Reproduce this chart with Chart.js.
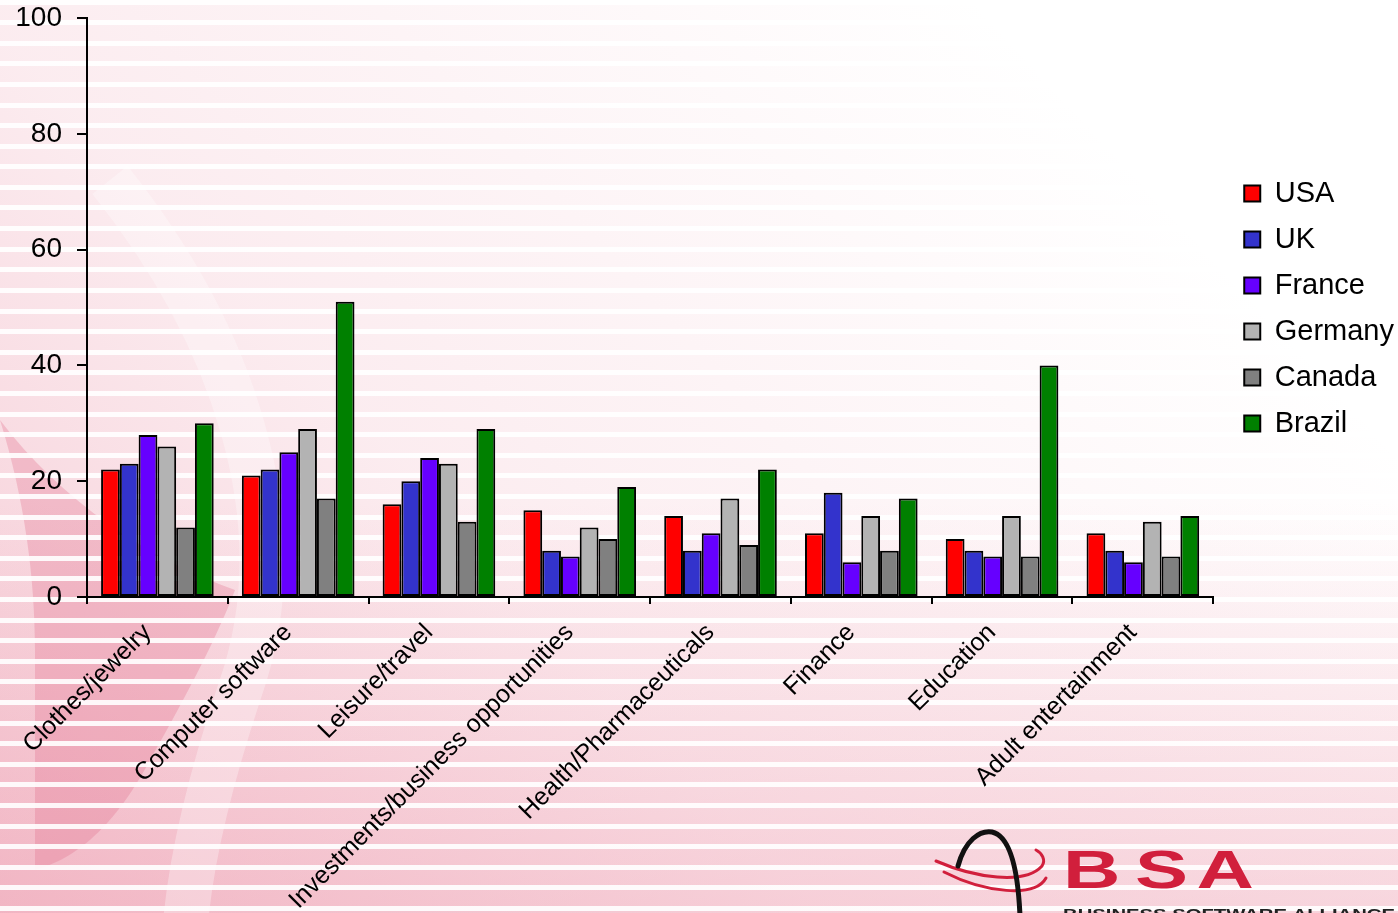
<!DOCTYPE html>
<html>
<head>
<meta charset="utf-8">
<title>Spam by product category</title>
<script src="https://cdn.jsdelivr.net/npm/chart.js@4.4.1/dist/chart.umd.min.js"></script>
<style>
  html, body { margin: 0; padding: 0; background: #fff; overflow: hidden; }
  #chart { display: block; }
</style>
</head>
<body>
<canvas id="chart" width="1398" height="913"></canvas>
<script>
const categories = [
  'Clothes/jewelry',
  'Computer software',
  'Leisure/travel',
  'Investments/business opportunities',
  'Health/Pharmaceuticals',
  'Finance',
  'Education',
  'Adult entertainment'
];

const usa     = [22, 21, 16, 15, 14, 11, 10, 11];
const uk      = [23, 22, 20,  8,  8, 18,  8,  8];
const france  = [28, 25, 24,  7, 11,  6,  7,  6];
const germany = [26, 29, 23, 12, 17, 14, 14, 13];
const canada  = [12, 17, 13, 10,  9,  8,  7,  7];
const brazil  = [30, 51, 29, 19, 22, 17, 40, 14];

const yTicks = [0, 20, 40, 60, 80, 100];

const FONT = "'Liberation Sans', Arial, sans-serif";
const LEGEND_TOP = 162;
const LEGEND_SHIFT = 14;

// pink striped backdrop with the faded swoosh on the left
function paintBackdrop(ctx, w, h) {
  ctx.save();
  ctx.fillStyle = '#ffffff';
  ctx.fillRect(0, 0, w, h);

  // general wash, heavier toward the bottom left
  let g = ctx.createLinearGradient(0, h, w * 0.7, 0);
  g.addColorStop(0, 'rgba(234, 140, 162, 0.5)');
  g.addColorStop(0.45, 'rgba(238, 160, 178, 0.2)');
  g.addColorStop(1, 'rgba(240, 170, 185, 0)');
  ctx.fillStyle = g;
  ctx.fillRect(0, 0, w, h);

  g = ctx.createLinearGradient(0, h * 0.55, 0, h);
  g.addColorStop(0, 'rgba(236, 150, 170, 0)');
  g.addColorStop(1, 'rgba(236, 150, 170, 0.35)');
  ctx.fillStyle = g;
  ctx.fillRect(0, 0, w, h);

  // darker crescent low on the left
  ctx.fillStyle = 'rgba(226, 110, 138, 0.3)';
  ctx.beginPath();
  ctx.moveTo(0, 420);
  ctx.bezierCurveTo(25, 500, 35, 580, 35, 650);
  ctx.lineTo(35, 870);
  ctx.bezierCurveTo(70, 860, 110, 835, 150, 760);
  ctx.bezierCurveTo(190, 690, 220, 630, 235, 590);
  ctx.bezierCurveTo(150, 560, 60, 500, 0, 420);
  ctx.closePath();
  ctx.fill();

  // faint lighter swoosh band
  ctx.strokeStyle = 'rgba(255, 255, 255, 0.3)';
  ctx.lineWidth = 45;
  ctx.beginPath();
  ctx.moveTo(110, 180);
  ctx.bezierCurveTo(230, 330, 300, 520, 240, 690);
  ctx.bezierCurveTo(210, 780, 190, 860, 185, 930);
  ctx.stroke();

  // white stripes
  ctx.fillStyle = 'rgba(255, 255, 255, 0.9)';
  for (let y = 620 - 30 * 20.6; y < h + 20; y += 20.6) {
    ctx.fillRect(0, Math.round(y - 2.5), w, 5);
  }
  ctx.restore();
}

function drawLogo(ctx) {
  ctx.save();
  // red orbit lines
  ctx.strokeStyle = '#d11f3c';
  ctx.lineCap = 'round';
  ctx.lineWidth = 3;
  ctx.beginPath();
  ctx.moveTo(936, 861);
  ctx.bezierCurveTo(975, 878, 1025, 885, 1042, 866);
  ctx.bezierCurveTo(1046, 860, 1042, 853, 1036, 850);
  ctx.stroke();
  ctx.beginPath();
  ctx.moveTo(944, 872);
  ctx.bezierCurveTo(985, 893, 1035, 898, 1046, 878);
  ctx.stroke();

  // black arc
  ctx.strokeStyle = '#111111';
  ctx.lineWidth = 5;
  ctx.beginPath();
  ctx.moveTo(958, 866);
  ctx.bezierCurveTo(965, 840, 980, 830, 992, 832);
  ctx.bezierCurveTo(1010, 836, 1018, 870, 1020, 916);
  ctx.stroke();

  // letters
  ctx.fillStyle = '#d11f3c';
  ctx.font = 'bold 53px ' + FONT;
  ctx.textBaseline = 'alphabetic';
  ctx.translate(1063, 888);
  ctx.scale(1.5, 1);
  ctx.fillText('B', 0, 0);
  ctx.fillText('S', 48, 0);
  ctx.fillText('A', 89, 0);
  ctx.restore();

  ctx.save();
  ctx.fillStyle = '#222222';
  ctx.font = 'bold 14px ' + FONT;
  const label = 'BUSINESS SOFTWARE ALLIANCE';
  const tw = ctx.measureText(label).width;
  ctx.translate(1063, 919);
  ctx.scale(332 / tw, 1);
  ctx.fillText(label, 0, 0);
  ctx.restore();
}

const backdropPlugin = {
  id: 'backdrop',
  afterLayout(chart) {
    // park the legend a little right of the plot and up near the middle
    const lg = chart.legend;
    const dy = LEGEND_TOP - lg.top;
    lg.top += dy;
    lg.bottom += dy;
    lg.left += LEGEND_SHIFT;
    lg.right += LEGEND_SHIFT;
  },
  beforeDraw(chart) {
    paintBackdrop(chart.ctx, chart.width, chart.height);
  },
  afterDraw(chart) {
    drawLogo(chart.ctx);
  }
};

function series(label, data, color) {
  return {
    label: label,
    data: data,
    backgroundColor: color,
    borderColor: '#000000',
    borderWidth: 2,
    borderSkipped: false,
    categoryPercentage: 0.8,
    barPercentage: 1.0
  };
}

new Chart(document.getElementById('chart'), {
  type: 'bar',
  data: {
    labels: categories,
    datasets: [
      series('USA', usa, '#ff0000'),
      series('UK', uk, '#3333cc'),
      series('France', france, '#6600ff'),
      series('Germany', germany, '#b3b3b3'),
      series('Canada', canada, '#808080'),
      series('Brazil', brazil, '#008000')
    ]
  },
  options: {
    responsive: false,
    animation: false,
    devicePixelRatio: 1,
    layout: { padding: { top: 18, right: 8, bottom: 0, left: 0 } },
    plugins: {
      legend: {
        position: 'right',
        align: 'start',
        labels: {
          color: '#000000',
          font: { family: FONT, size: 29 },
          boxWidth: 16,
          boxHeight: 16,
          padding: 17
        }
      },
      tooltip: { enabled: false }
    },
    scales: {
      x: {
        afterFit(scale) { scale.height = 316; },
        grid: {
          drawOnChartArea: false,
          drawTicks: true,
          tickLength: 7,
          color: '#000000',
          lineWidth: 2
        },
        border: { color: '#000000', width: 2 },
        ticks: {
          autoSkip: false,
          minRotation: 45,
          maxRotation: 45,
          padding: 14,
          labelOffset: -10,
          color: '#000000',
          font: { family: FONT, size: 25 }
        }
      },
      y: {
        min: 0,
        max: 100,
        afterFit(scale) {
          scale.width = 87;
          // the "100" label may poke above the plot; no extra room needed
          scale.paddingTop = 0;
          scale.paddingBottom = 0;
        },
        afterBuildTicks(scale) { scale.ticks = yTicks.map(v => ({ value: v })); },
        grid: {
          drawOnChartArea: false,
          drawTicks: true,
          tickLength: 10,
          color: '#000000',
          lineWidth: 2
        },
        border: { color: '#000000', width: 2 },
        ticks: {
          padding: 15,
          color: '#000000',
          font: { family: FONT, size: 28 }
        }
      }
    }
  },
  plugins: [backdropPlugin]
});
</script>
</body>
</html>
